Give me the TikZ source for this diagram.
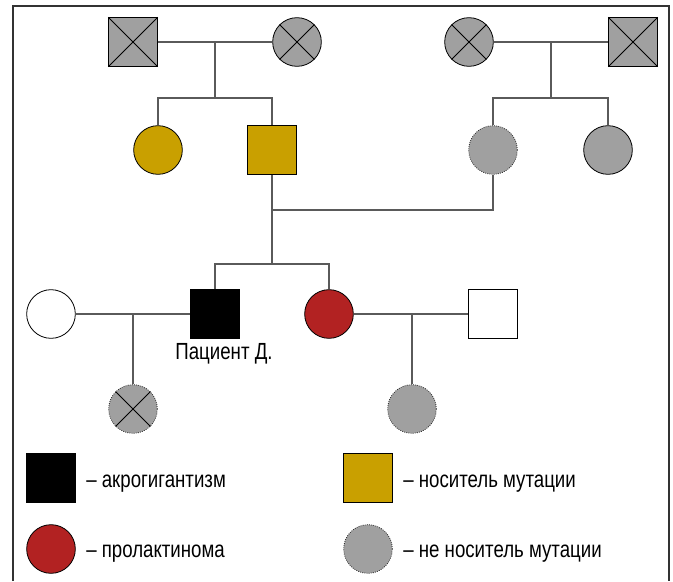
\documentclass[tikz,border=0pt]{standalone}
\usepackage{fontspec}
\setmainfont{Liberation Sans}[FakeStretch=0.8]
\definecolor{gfill}{HTML}{A0A0A0}
\definecolor{gold}{HTML}{C9A000}
\definecolor{dred}{HTML}{B22222}
\definecolor{lin}{HTML}{5A5A5A}
\tikzset{
  sq/.style={rectangle, draw=black, line width=0.6pt, minimum size=36.5pt, inner sep=0pt},
  ci/.style={circle, draw=black, line width=0.6pt, minimum size=36.5pt, inner sep=0pt},
  gr/.style={fill=gfill},
  ndot/.style={draw=black!85, densely dotted},
  con/.style={draw=lin, line width=0.9pt},
  xline/.style={draw=black, line width=0.6pt},
  frame/.style={draw=black!80, line width=1pt},
  txt/.style={font=\fontsize{17.5pt}{19pt}\selectfont, inner sep=0pt}
}
\begin{document}
\begin{tikzpicture}[x=0.75pt,y=-0.75pt]
\useasboundingbox (0,0) rectangle (673,581);
\draw[frame] (13,581) -- (13,6) -- (669,6) -- (669,581);
% generation 1
\node[sq,gr] (a1) at (133,42) {};
\node[ci,gr] (a2) at (297,42) {};
\node[ci,gr] (a3) at (469,42) {};
\node[sq,gr] (a4) at (633,42) {};
% generation 2
\node[ci,fill=gold] (b1) at (158,150) {};
\node[sq,fill=gold] (b2) at (272,150) {};
\node[ci,gr,ndot] (b3) at (493,150) {};
\node[ci,gr] (b4) at (608,150) {};
% generation 3
\node[ci,fill=white] (c1) at (51,314) {};
\node[sq,fill=black] (c2) at (215,314) {};
\node[ci,fill=dred] (c3) at (329,314) {};
\node[sq,fill=white] (c4) at (493,314) {};
% generation 4
\node[ci,gr,ndot] (d1) at (133,409) {};
\node[ci,gr,ndot] (d2) at (412,409) {};
% crosses
\draw[xline] (a1.north west) -- (a1.south east) (a1.north east) -- (a1.south west);
\draw[xline] (a4.north west) -- (a4.south east) (a4.north east) -- (a4.south west);
\draw[xline] (a2.45) -- (a2.225) (a2.135) -- (a2.315);
\draw[xline] (a3.45) -- (a3.225) (a3.135) -- (a3.315);
\draw[xline] (d1.45) -- (d1.225) (d1.135) -- (d1.315);
% connectors
\coordinate (m1) at (215,42);
\coordinate (s1) at (215,98);
\coordinate (m2) at (551,42);
\coordinate (s2) at (551,98);
\coordinate (m3) at (272,210);
\coordinate (s3) at (272,264);
\coordinate (m4) at (133,314);
\coordinate (m5) at (412,314);
\draw[con] (a1) -- (a2);
\draw[con] (m1) -- (s1);
\draw[con] (b1.north) |- (s1) -| (b2.north);
\draw[con] (a3) -- (a4);
\draw[con] (m2) -- (s2);
\draw[con] (b3.north) |- (s2) -| (b4.north);
\draw[con] (b2.south) -- (m3) -| (b3.south);
\draw[con] (m3) -- (s3);
\draw[con] (c2.north) |- (s3) -| (c3.north);
\draw[con] (c1) -- (c2);
\draw[con] (m4) -- (d1.north);
\draw[con] (c3) -- (c4);
\draw[con] (m5) -- (d2.north);
% label
\node[txt, anchor=base] (lab) at (224,359) {Пациент Д.};
% legend
\node[sq,fill=black] (l1) at (51,478) {};
\node[sq,fill=gold] (l2) at (368,478) {};
\node[ci,fill=dred] (l3) at (51,549) {};
\node[ci,gr,ndot] (l4) at (368,549) {};
\node[txt, anchor=base west] (t1) at (86,487) {– акрогигантизм};
\node[txt, anchor=base west] (t2) at (403,487) {– носитель мутации};
\node[txt, anchor=base west] (t3) at (86,557) {– пролактинома};
\node[txt, anchor=base west] (t4) at (403,557) {– не носитель мутации};
\end{tikzpicture}
\end{document}
